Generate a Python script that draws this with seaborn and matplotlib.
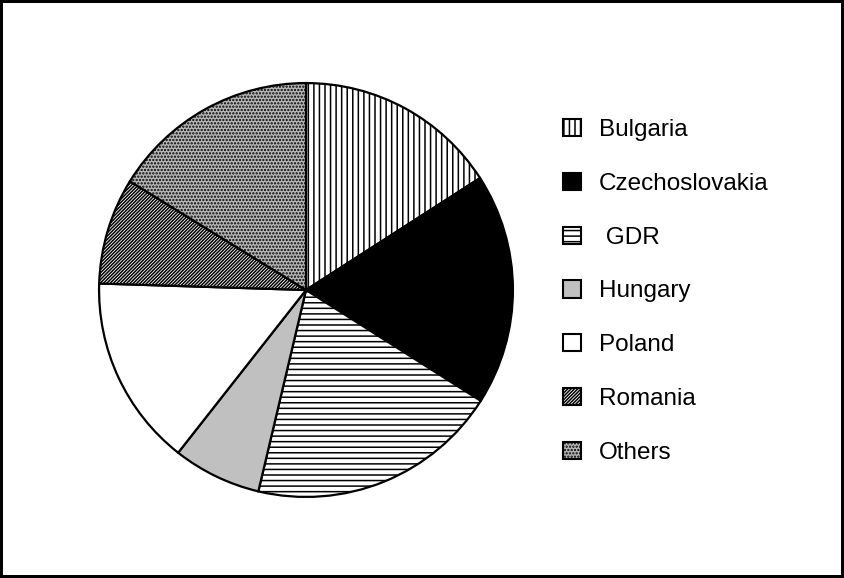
import matplotlib
matplotlib.use("Agg")
import matplotlib.pyplot as plt
import seaborn as sns
from matplotlib.patches import Patch

sns.set_theme(style="white")
plt.rcParams['font.family'] = ['Liberation Sans', 'DejaVu Sans']
plt.rcParams['hatch.linewidth'] = 1.1
plt.rcParams['text.color'] = 'black'

countries = ["Bulgaria", "Czechoslovakia", " GDR", "Hungary", "Poland", "Romania", "Others"]
shares = [15.9, 18.1, 19.7, 6.9, 14.9, 8.3, 16.2]

faces = ["white", "black", "white", "#c0c0c0", "white", "white", "#b8b8b8"]
hatches = ["|||", None, "---", None, None, "/" * 10, "....."]

W, H = 844, 578
fig = plt.figure(figsize=(W / 100, H / 100), dpi=100)
fig.patch.set_facecolor("white")
fig.patch.set_edgecolor("black")
fig.patch.set_linewidth(3)

cx, cy, r = 306, 290, 209
ax = fig.add_axes([(cx - r) / W, (H - cy - r) / H, 2 * r / W, 2 * r / H])
wedges, _ = ax.pie(shares, startangle=90, counterclock=False, radius=1,
                   wedgeprops=dict(edgecolor="black", linewidth=1.6))
for w, fc, h in zip(wedges, faces, hatches):
    w.set_facecolor(fc)
    if h:
        w.set_hatch(h)
ax.set_xlim(-1.01, 1.01)
ax.set_ylim(-1.01, 1.01)
ax.set_aspect("equal")
ax.axis("off")

handles = [Patch(facecolor=fc, edgecolor="black", hatch=h, linewidth=1.5)
           for fc, h in zip(faces, hatches)]
leg = fig.legend(handles, countries, loc="upper left",
                 bbox_to_anchor=(563 / W, (H - 119) / H), frameon=False,
                 fontsize=17.5, handlelength=0.72, handleheight=0.72,
                 handletextpad=0.75, labelspacing=1.3, borderpad=0, borderaxespad=0)
for t in leg.get_texts():
    t.set_color("black")

fig.savefig("out.png", dpi=100, facecolor=fig.get_facecolor(), edgecolor=fig.get_edgecolor())
